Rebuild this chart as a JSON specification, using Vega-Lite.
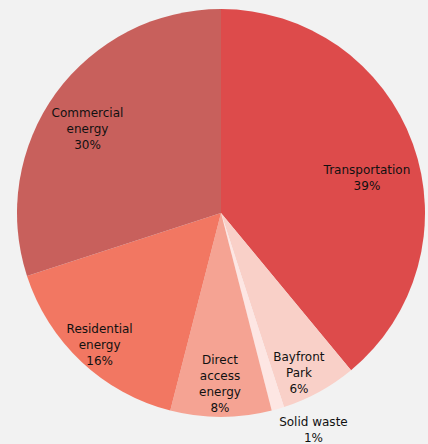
{
  "$schema": "https://vega.github.io/schema/vega-lite/v6.json",
  "width": 414,
  "height": 426,
  "padding": {"left": 14, "top": 0, "right": 0, "bottom": 18},
  "autosize": {"type": "none"},
  "background": "#f2f2f2",
  "config": {"view": {"stroke": null}},
  "data": {
    "values": [
      {"category": "Transportation", "label": "Transportation\n39%", "value": 39, "order": 1},
      {"category": "Bayfront Park", "label": "Bayfront\nPark\n6%", "value": 6, "order": 2},
      {"category": "Solid waste", "label": "Solid waste\n1%", "value": 1, "order": 3},
      {"category": "Direct access energy", "label": "Direct\naccess\nenergy\n8%", "value": 8, "order": 4},
      {"category": "Residential energy", "label": "Residential\nenergy\n16%", "value": 16, "order": 5},
      {"category": "Commercial energy", "label": "Commercial\nenergy\n30%", "value": 30, "order": 6}
    ]
  },
  "encoding": {
    "theta": {"field": "value", "type": "quantitative", "stack": true},
    "order": {"field": "order", "type": "quantitative"}
  },
  "layer": [
    {
      "mark": {"type": "arc", "outerRadius": 204},
      "encoding": {
        "color": {
          "field": "category",
          "type": "nominal",
          "legend": null,
          "scale": {
            "domain": ["Transportation", "Bayfront Park", "Solid waste", "Direct access energy", "Residential energy", "Commercial energy"],
            "range": ["#dd4b4b", "#f9d0c8", "#fde6e3", "#f5a393", "#f27762", "#c8605c"]
          }
        }
      }
    },
    {
      "mark": {"type": "text", "radius": 170, "dx": -14, "dy": 15, "lineBreak": "\n", "font": "DejaVu Sans", "fontSize": 12, "lineHeight": 16, "align": "center", "baseline": "middle", "color": "#111111"},
      "encoding": {"text": {"condition": {"test": "datum.category === 'Transportation'", "field": "label"}, "value": ""}}
    },
    {
      "mark": {"type": "text", "radius": 170, "dx": 4, "dy": 0, "lineBreak": "\n", "font": "DejaVu Sans", "fontSize": 12, "lineHeight": 16, "align": "center", "baseline": "middle", "color": "#111111"},
      "encoding": {"text": {"condition": {"test": "datum.category === 'Commercial energy'", "field": "label"}, "value": ""}}
    },
    {
      "mark": {"type": "text", "radius": 170, "dx": -5, "dy": -8, "lineBreak": "\n", "font": "DejaVu Sans", "fontSize": 12, "lineHeight": 16, "align": "center", "baseline": "middle", "color": "#111111"},
      "encoding": {"text": {"condition": {"test": "datum.category === 'Residential energy'", "field": "label"}, "value": ""}}
    },
    {
      "mark": {"type": "text", "radius": 170, "dx": -1, "dy": -23, "lineBreak": "\n", "font": "DejaVu Sans", "fontSize": 12, "lineHeight": 16, "align": "center", "baseline": "middle", "color": "#111111"},
      "encoding": {"text": {"condition": {"test": "datum.category === 'Direct access energy'", "field": "label"}, "value": ""}}
    },
    {
      "mark": {"type": "text", "radius": 170, "dx": -4, "dy": -5, "lineBreak": "\n", "font": "DejaVu Sans", "fontSize": 12, "lineHeight": 16, "align": "center", "baseline": "middle", "color": "#111111"},
      "encoding": {"text": {"condition": {"test": "datum.category === 'Bayfront Park'", "field": "label"}, "value": ""}}
    },
    {
      "mark": {"type": "text", "radius": 170, "dx": 45, "dy": 46, "lineBreak": "\n", "font": "DejaVu Sans", "fontSize": 12, "lineHeight": 16, "align": "center", "baseline": "middle", "color": "#111111"},
      "encoding": {"text": {"condition": {"test": "datum.category === 'Solid waste'", "field": "label"}, "value": ""}}
    }
  ]
}
